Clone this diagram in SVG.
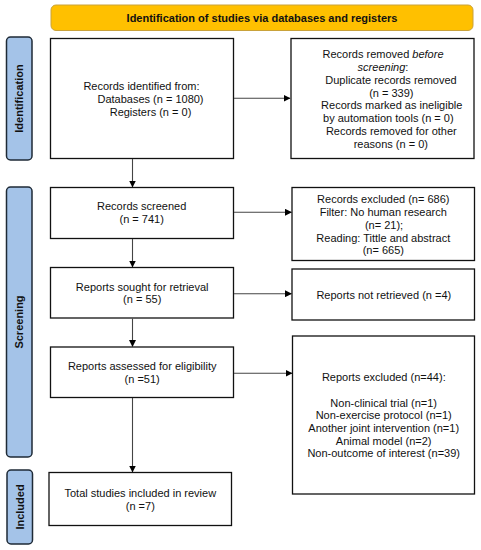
<svg xmlns="http://www.w3.org/2000/svg" width="481" height="550" viewBox="0 0 481 550">
<defs>
<marker id="ah" markerWidth="7" markerHeight="7" refX="6.5" refY="3.5" orient="auto" markerUnits="userSpaceOnUse">
<path d="M0,0 L7,3.5 L0,7 Z" fill="#000"/>
</marker>
<style>
text{font-family:"Liberation Sans",Arial,sans-serif;font-size:11px;fill:#111;text-anchor:middle}
.b{font-weight:bold}
.box{fill:#fff;stroke:#111;stroke-width:1.3}
.side{fill:#A4C3E8;stroke:#1E2A36;stroke-width:1.5}
.hdr{fill:#FFC000;stroke:#C9A23A;stroke-width:1}
.con{stroke:#444;stroke-width:1.1;fill:none;marker-end:url(#ah)}
</style>
</defs>
<rect width="481" height="550" fill="#fff"/>

<g id="header">
<rect class="hdr" x="51" y="5" width="422" height="25.5" rx="5"/>
<text class="b" x="262" y="21.5">Identification of studies via databases and registers</text>
</g>

<g id="side-identification">
<rect class="side" x="6.5" y="37" width="25.5" height="123" rx="4"/>
<text class="b" transform="translate(23,98.5) rotate(-90)">Identification</text>
</g>
<g id="side-screening">
<rect class="side" x="6.5" y="187" width="25.5" height="270" rx="4"/>
<text class="b" transform="translate(23,322) rotate(-90)">Screening</text>
</g>
<g id="side-included">
<rect class="side" x="7" y="470" width="25.5" height="74" rx="4"/>
<text class="b" transform="translate(23.5,507) rotate(-90)">Included</text>
</g>

<g id="identified">
<rect class="box" x="50.5" y="38.5" width="183" height="120"/>
<text x="141.5" y="90">Records identified from:</text>
<text x="150.5" y="103">Databases (n = 1080)</text>
<text x="150.5" y="116">Registers (n = 0)</text>
</g>

<g id="removed">
<rect class="box" x="291" y="38.5" width="183" height="120"/>
<text x="383" y="58">Records removed <tspan font-style="italic">before</tspan></text>
<text x="383" y="71"><tspan font-style="italic">screening</tspan>:</text>
<text x="391" y="83.8">Duplicate records removed</text>
<text x="391.3" y="96.6">(n = 339)</text>
<text x="391.7" y="109.4">Records marked as ineligible</text>
<text x="388.3" y="122.2">by automation tools (n = 0)</text>
<text x="391.3" y="135">Records removed for other</text>
<text x="390.8" y="147.8">reasons (n = 0)</text>
</g>

<g id="screened">
<rect class="box" x="50.5" y="187.5" width="183" height="51"/>
<text x="141.7" y="210">Records screened</text>
<text x="141.7" y="223.3">(n = 741)</text>
</g>

<g id="excluded">
<rect class="box" x="292" y="187.5" width="182.5" height="73"/>
<text x="383.3" y="203.2">Records excluded (n= 686)</text>
<text x="383.3" y="216">Filter: No human research</text>
<text x="384" y="228.8">(n= 21);</text>
<text x="383.3" y="241.6">Reading: Tittle and abstract</text>
<text x="383.3" y="254.4">(n= 665)</text>
</g>

<g id="sought">
<rect class="box" x="50.5" y="267.5" width="183" height="50.5"/>
<text x="142.2" y="290.5">Reports sought for retrieval</text>
<text x="142.2" y="303">(n = 55)</text>
</g>

<g id="notretrieved">
<rect class="box" x="292" y="269" width="182.5" height="51"/>
<text x="383.8" y="299">Reports not retrieved (n =4)</text>
</g>

<g id="assessed">
<rect class="box" x="50.5" y="347" width="183" height="50.5"/>
<text x="142.2" y="369.5">Reports assessed for eligibility</text>
<text x="142.2" y="382.5">(n =51)</text>
</g>

<g id="reportsexcluded">
<rect class="box" x="292.5" y="336" width="182" height="158"/>
<text x="383.8" y="381">Reports excluded (n=44):</text>
<text x="383.7" y="406.5">Non-clinical trial (n=1)</text>
<text x="383.7" y="419.2">Non-exercise protocol (n=1)</text>
<text x="383.7" y="431.9">Another joint intervention (n=1)</text>
<text x="383.7" y="444.6">Animal model (n=2)</text>
<text x="383.7" y="457.3">Non-outcome of interest (n=39)</text>
</g>

<g id="included">
<rect class="box" x="49" y="472.5" width="182.5" height="53"/>
<text x="140.3" y="497">Total studies included in review</text>
<text x="140.3" y="510">(n =7)</text>
</g>

<g id="connectors">
<line class="con" x1="234" y1="98.3" x2="290" y2="98.3"/>
<line class="con" x1="132.5" y1="159" x2="132.5" y2="187"/>
<line class="con" x1="234" y1="212.3" x2="291.5" y2="212.3"/>
<line class="con" x1="132.5" y1="239" x2="132.5" y2="267"/>
<line class="con" x1="234" y1="293.7" x2="291.5" y2="293.7"/>
<line class="con" x1="132.5" y1="318.5" x2="132.5" y2="346.5"/>
<line class="con" x1="234" y1="373.3" x2="292" y2="373.3"/>
<line class="con" x1="132.5" y1="398" x2="132.5" y2="472"/>
</g>
</svg>
